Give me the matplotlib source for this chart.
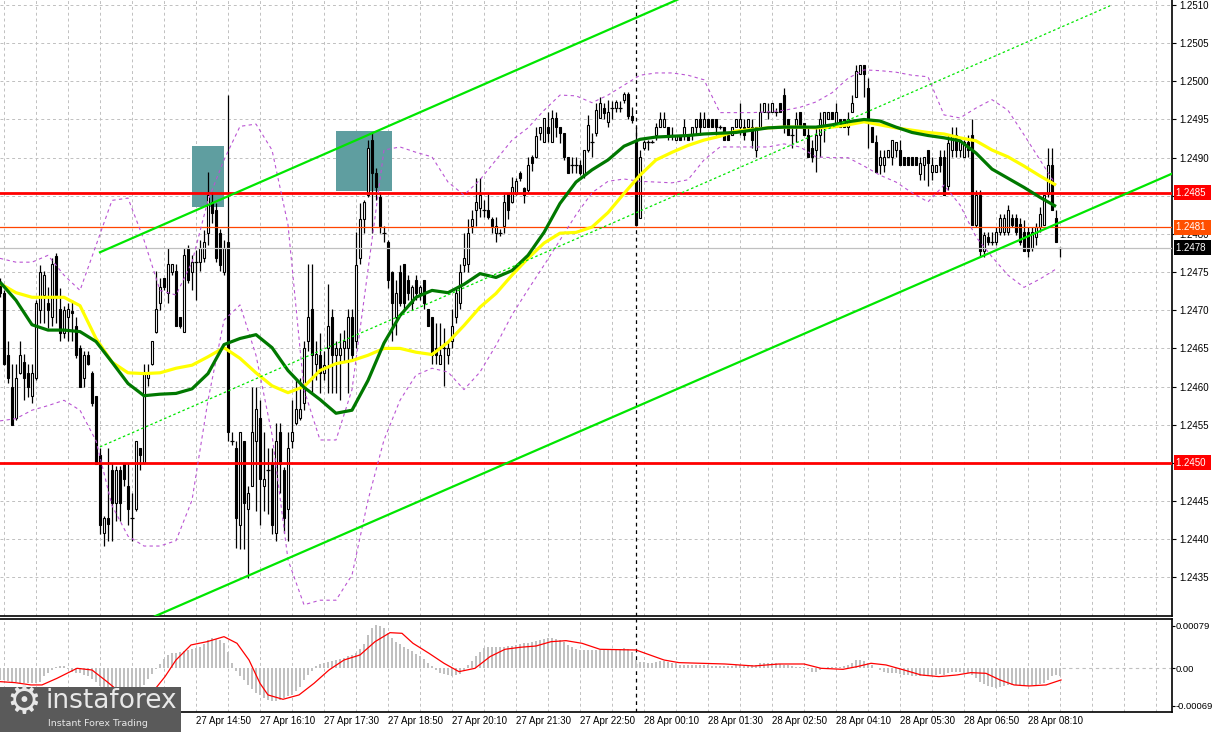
import numpy as np
import matplotlib.pyplot as plt
from matplotlib.patches import Rectangle

plt.rcParams['font.family'] = ['Liberation Sans', 'DejaVu Sans']

BASE = 1.2400   # all chart values below are pips above this price
PIP = 0.0001

# 5 minute candles, 27 Apr 10:45 .. 28 Apr 08:50 (pips above 1.2400)
opens = [
    73.5, 72.2, 64.1, 60.0, 55.9, 61.8, 63.2, 61.8,
    58.8, 61.1, 70.0, 72.0, 71.0, 69.1, 77.1, 70.2,
    67.0, 69.1, 69.9, 68.0, 65.0, 61.1, 64.1, 61.8,
    58.8, 51.0, 40.8, 42.8, 49.0, 44.8, 49.0, 50.0,
    47.0, 42.8, 44.0, 52.0, 50.0, 61.1, 63.0, 67.1,
    71.0, 74.2, 72.2, 75.0, 75.2, 69.1, 67.1, 78.2,
    75.0, 76.3, 76.3, 76.9, 80.1, 84.2, 83.1, 80.1,
    75.0, 78.9, 52.9, 52.0, 41.8, 52.9, 44.0, 47.0,
    52.9, 55.9, 47.0, 49.0, 50.0, 40.8, 54.0, 49.0,
    44.0, 52.9, 55.2, 55.9, 57.9, 66.0, 70.2, 63.0,
    64.1, 61.8, 65.0, 69.1, 64.1, 64.1, 65.0, 65.0,
    69.1, 66.0, 76.9, 82.0, 85.1, 92.3, 88.0, 84.8,
    80.1, 78.9, 75.0, 69.1, 75.0, 76.1, 73.9, 71.0,
    73.9, 72.2, 73.9, 70.2, 69.1, 65.0, 63.0, 65.0,
    64.1, 66.0, 69.1, 71.0, 75.9, 76.1, 81.1, 83.1,
    83.4, 83.1, 83.1, 82.0, 80.1, 80.1, 81.1, 85.3,
    84.2, 85.3, 88.0, 86.0, 85.7, 90.1, 90.1, 93.2,
    92.0, 94.0, 92.0, 95.2, 94.0, 93.2, 90.1, 89.0,
    89.0, 89.0, 87.7, 91.0, 92.0, 93.2, 95.2, 96.5,
    94.7, 96.5, 96.5, 96.5, 97.6, 98.3, 95.5, 92.3,
    82.1, 91.2, 92.1, 92.1, 93.0, 94.0, 94.0, 94.0,
    93.0, 92.3, 93.0, 93.0, 93.0, 93.0, 94.0, 95.1,
    94.0, 95.1, 95.1, 95.1, 94.0, 94.0, 93.0, 93.0,
    94.0, 94.0, 94.0, 94.0, 94.0, 91.0, 94.0, 96.0,
    96.0, 96.0, 96.0, 97.1, 98.2, 95.1, 93.0, 94.0,
    96.0, 94.6, 93.0, 91.2, 91.0, 93.0, 94.0, 95.1,
    96.0, 94.0, 95.1, 95.1, 94.0, 96.0, 97.9, 101.0,
    102.1, 99.1, 94.0, 92.1, 89.1, 89.1, 90.1, 90.1,
    91.0, 91.0, 90.1, 90.1, 90.1, 90.1, 87.9, 89.1,
    91.0, 88.1, 88.1, 90.1, 90.1, 86.3, 91.0, 93.0,
    91.0, 90.1, 92.1, 93.0, 81.2, 85.1, 77.8, 79.6,
    79.0, 79.0, 80.2, 80.2, 80.2, 82.1, 82.1, 81.3,
    80.2, 80.2, 78.2, 79.6, 80.9, 81.2, 85.2, 89.1,
    82.1, 78.2,
]
highs = [
    74.2, 72.6, 66.0, 63.0, 63.0, 66.0, 64.3, 63.0,
    63.0, 71.3, 75.9, 75.2, 73.0, 76.8, 77.5, 72.9,
    70.6, 71.0, 71.3, 69.1, 65.4, 64.7, 64.7, 62.1,
    58.8, 51.9, 43.1, 52.0, 50.0, 49.6, 49.6, 50.0,
    50.0, 46.0, 52.9, 52.0, 63.0, 63.0, 66.0, 75.2,
    74.2, 74.2, 78.1, 76.1, 76.1, 69.1, 78.2, 78.5,
    77.2, 77.9, 79.2, 80.5, 88.1, 85.5, 84.0, 80.7,
    79.2, 98.2, 54.0, 52.9, 54.0, 52.9, 47.0, 59.9,
    59.9, 58.2, 54.0, 52.0, 52.0, 55.2, 55.2, 49.4,
    54.0, 58.2, 60.8, 61.1, 66.0, 76.1, 76.1, 66.0,
    67.0, 64.7, 73.5, 70.2, 66.0, 67.0, 67.4, 70.2,
    70.2, 80.2, 84.0, 84.4, 92.3, 93.2, 88.7, 85.5,
    81.1, 79.2, 75.2, 73.9, 75.9, 76.1, 74.6, 73.3,
    74.6, 73.3, 73.9, 70.2, 69.1, 68.3, 68.3, 67.7,
    66.0, 70.2, 73.0, 76.1, 80.1, 82.0, 83.1, 87.3,
    87.3, 84.4, 85.3, 82.2, 82.2, 80.7, 85.3, 85.3,
    87.4, 87.3, 88.3, 86.1, 90.1, 90.3, 94.0, 94.0,
    95.2, 96.0, 96.2, 96.0, 94.0, 93.2, 90.1, 90.1,
    90.1, 89.7, 91.0, 95.6, 93.2, 97.1, 97.9, 97.1,
    97.6, 97.4, 97.6, 97.4, 98.6, 98.6, 96.7, 94.0,
    91.0, 92.3, 92.3, 92.3, 94.6, 96.0, 96.0, 94.0,
    94.0, 93.0, 93.0, 95.1, 93.0, 94.0, 95.1, 96.0,
    96.0, 95.1, 95.1, 95.1, 94.3, 94.0, 93.0, 94.0,
    95.1, 97.1, 95.1, 95.1, 95.1, 94.0, 97.1, 97.1,
    97.1, 97.1, 96.5, 97.1, 99.1, 95.1, 94.0, 96.0,
    96.0, 94.6, 94.0, 92.3, 94.0, 96.0, 96.0, 96.0,
    96.0, 97.1, 95.1, 95.1, 96.0, 98.2, 102.1, 102.1,
    102.1, 100.5, 94.0, 93.0, 91.0, 91.0, 91.0, 92.3,
    92.1, 92.3, 90.1, 90.1, 90.1, 90.1, 90.1, 90.1,
    91.0, 90.1, 89.1, 91.0, 91.0, 93.0, 94.0, 94.0,
    92.3, 92.3, 93.0, 95.1, 85.7, 85.7, 80.2, 80.2,
    80.2, 80.9, 82.6, 82.6, 83.8, 82.6, 82.6, 82.1,
    81.8, 80.9, 80.9, 81.4, 83.5, 85.1, 91.2, 91.2,
    83.2, 78.2,
]
lows = [
    71.8, 62.8, 60.5, 54.9, 55.6, 61.7, 58.2, 58.6,
    57.9, 60.8, 68.3, 68.3, 67.7, 68.0, 68.3, 66.0,
    66.4, 66.0, 66.0, 63.7, 59.9, 59.9, 62.8, 57.5,
    49.9, 40.7, 39.1, 39.8, 39.8, 42.4, 42.4, 47.0,
    41.8, 39.8, 43.7, 49.0, 49.9, 60.1, 62.8, 67.0,
    70.0, 72.6, 70.9, 74.6, 68.0, 67.7, 67.1, 73.6,
    72.6, 71.3, 75.2, 76.3, 78.5, 81.5, 76.3, 75.2,
    74.6, 52.9, 52.3, 38.9, 38.7, 38.7, 34.9, 47.0,
    43.7, 41.8, 43.7, 43.3, 40.7, 39.8, 46.0, 40.8,
    39.8, 52.0, 54.9, 55.6, 56.9, 64.7, 59.1, 60.8,
    59.1, 60.8, 59.1, 59.1, 59.1, 58.2, 63.4, 59.1,
    63.4, 65.0, 76.1, 80.1, 84.8, 80.1, 84.4, 80.1,
    78.9, 72.9, 66.0, 66.7, 70.6, 70.2, 71.3, 70.0,
    71.3, 71.3, 70.2, 68.0, 63.0, 63.0, 63.0, 60.1,
    63.0, 65.0, 68.3, 70.2, 75.0, 75.0, 80.1, 81.1,
    82.2, 82.2, 82.0, 80.1, 78.9, 79.7, 80.1, 82.0,
    84.0, 85.1, 87.0, 84.0, 85.5, 88.3, 89.9, 92.3,
    92.0, 92.0, 92.0, 92.7, 91.9, 89.7, 88.0, 88.0,
    88.0, 87.7, 87.3, 90.7, 90.1, 92.9, 95.2, 95.1,
    94.0, 95.1, 96.0, 96.0, 97.1, 95.1, 94.6, 81.2,
    82.1, 91.0, 91.0, 91.9, 92.3, 94.0, 94.0, 92.3,
    92.3, 92.3, 92.3, 92.3, 92.3, 92.3, 93.0, 93.0,
    94.0, 94.0, 94.0, 93.0, 93.8, 92.3, 92.3, 93.0,
    94.0, 93.0, 92.3, 94.0, 91.3, 90.1, 93.8, 96.0,
    95.1, 96.0, 95.5, 96.0, 93.2, 93.0, 91.3, 92.1,
    94.0, 93.0, 90.1, 89.4, 88.1, 90.1, 92.1, 95.1,
    95.1, 94.0, 94.0, 94.0, 93.0, 96.0, 97.9, 101.0,
    97.9, 91.2, 92.1, 88.1, 87.9, 88.1, 90.1, 89.1,
    90.1, 89.1, 89.1, 89.1, 89.1, 89.1, 87.1, 87.1,
    86.3, 87.1, 88.1, 88.1, 85.1, 85.7, 90.1, 90.1,
    90.1, 90.1, 90.1, 81.2, 80.9, 77.0, 77.0, 78.6,
    78.6, 78.6, 79.8, 79.8, 79.8, 80.9, 79.8, 78.6,
    77.8, 77.0, 77.8, 78.6, 80.2, 81.2, 84.9, 83.2,
    79.0, 77.0,
]
closes = [
    72.2, 63.0, 61.1, 54.9, 61.1, 64.1, 61.1, 59.9,
    61.8, 70.9, 75.0, 74.6, 70.0, 76.1, 72.0, 67.0,
    70.0, 70.2, 69.6, 64.1, 59.9, 64.1, 63.0, 57.9,
    49.9, 41.8, 42.8, 42.0, 44.7, 49.0, 44.8, 47.9,
    44.0, 42.8, 52.9, 51.0, 61.8, 61.8, 66.0, 70.2,
    73.0, 73.0, 76.1, 76.1, 68.0, 68.0, 77.2, 74.0,
    76.3, 76.3, 78.1, 78.9, 85.1, 82.7, 76.9, 75.9,
    78.1, 54.0, 52.9, 42.8, 54.0, 44.8, 46.0, 54.0,
    57.1, 47.9, 47.9, 49.0, 41.8, 52.9, 49.9, 42.8,
    52.0, 54.0, 57.1, 57.1, 65.0, 69.1, 64.1, 64.3,
    61.8, 62.8, 68.0, 64.1, 65.0, 65.0, 66.0, 69.1,
    64.1, 75.9, 82.0, 84.2, 91.2, 88.0, 86.1, 81.1,
    80.1, 73.9, 71.0, 72.2, 71.0, 71.0, 72.2, 73.0,
    72.2, 73.0, 71.0, 68.0, 64.1, 64.1, 64.1, 65.0,
    65.0, 68.0, 72.2, 75.0, 76.9, 80.1, 82.0, 84.2,
    85.1, 83.1, 82.2, 81.1, 81.1, 80.1, 84.2, 83.1,
    86.1, 87.0, 87.3, 85.1, 89.0, 89.3, 92.9, 94.0,
    95.2, 93.2, 95.2, 94.0, 93.2, 90.1, 88.0, 89.0,
    89.0, 88.0, 91.0, 94.3, 92.0, 96.2, 97.1, 95.8,
    96.0, 96.5, 97.3, 96.5, 98.3, 95.5, 94.9, 81.2,
    90.1, 92.1, 92.1, 92.1, 94.0, 95.1, 95.1, 93.0,
    93.0, 93.0, 92.3, 94.0, 92.3, 94.0, 95.1, 94.0,
    95.1, 94.0, 94.0, 94.0, 94.0, 92.3, 92.3, 94.0,
    95.1, 95.1, 93.0, 95.1, 92.3, 94.0, 96.0, 97.1,
    96.0, 97.1, 96.0, 96.0, 94.0, 93.0, 93.0, 95.1,
    94.3, 93.0, 90.1, 90.1, 93.0, 95.1, 96.0, 96.0,
    95.1, 96.0, 94.0, 94.0, 95.1, 97.1, 101.3, 102.1,
    101.0, 94.9, 92.1, 88.1, 90.1, 90.1, 91.0, 92.3,
    92.1, 89.1, 89.1, 89.1, 89.1, 89.1, 89.3, 90.1,
    89.3, 89.1, 89.1, 89.1, 85.1, 91.9, 93.0, 91.0,
    92.3, 92.1, 91.0, 81.2, 85.1, 77.8, 79.8, 79.0,
    79.0, 80.2, 82.1, 82.1, 83.2, 81.2, 80.2, 79.0,
    77.8, 77.8, 80.2, 80.9, 82.6, 85.1, 89.1, 83.2,
    79.0, 78.2,
]

# indicator lines, one value every 4 bars (pips above 1.2400)
MA_STEP = 4
ma_green = [
    73.7, 71.3, 68.1, 67.4, 67.4, 67.2, 65.9, 63.2,
    60.4, 58.8, 59.0, 59.1, 59.7, 61.7, 65.5, 66.3,
    66.8, 65.1, 62.1, 59.9, 58.3, 56.5, 56.9, 60.8,
    65.7, 69.3, 71.7, 72.6, 72.3, 73.4, 74.8, 74.3,
    75.2, 77.2, 80.2, 84.0, 86.8, 88.4, 89.7, 91.5,
    92.4, 92.7, 92.8, 92.9, 93.1, 93.2, 93.3, 93.6,
    93.9, 94.0, 94.0, 94.0, 94.3, 94.7, 95.0, 94.8,
    94.0, 93.3, 92.9, 92.6, 92.2, 90.6, 88.5, 87.3,
    86.1, 84.8, 83.6,
]
ma_yellow = [
    73.5, 72.3, 71.7, 71.7, 71.7, 70.6, 66.3, 63.2,
    61.8, 61.7, 61.8, 62.4, 62.8, 63.9, 65.1, 63.7,
    61.8, 60.1, 59.2, 60.0, 62.1, 63.0, 63.4, 64.1,
    65.0, 65.0, 64.5, 64.2, 65.8, 68.0, 70.4, 72.2,
    74.6, 76.8, 78.8, 80.1, 80.2, 80.9, 82.8, 85.3,
    87.7, 89.7, 90.7, 91.6, 92.3, 92.8, 93.5, 93.7,
    93.9, 94.0, 94.0, 93.9, 94.0, 94.3, 94.7, 94.3,
    93.9, 93.6, 93.3, 93.1, 92.6, 92.2, 91.0, 90.1,
    88.9, 87.6, 86.4,
]
band_upper = [
    76.8, 76.3, 76.3, 77.2, 74.6, 72.6, 78.5, 84.4,
    84.7, 79.2, 72.6, 72.0, 76.3, 84.4, 89.7, 94.1,
    94.4, 91.0, 81.2, 59.6, 53.0, 53.0, 59.6, 75.3,
    91.0, 91.4, 90.7, 90.1, 86.8, 85.1, 87.1, 89.7,
    92.3, 93.9, 96.2, 98.2, 98.1, 97.2, 98.2, 99.5,
    100.8, 101.1, 101.1, 100.8, 100.2, 95.9, 95.9, 95.9,
    96.0, 96.2, 96.6, 97.3, 98.5, 100.4, 101.5, 101.4,
    101.2, 100.8, 100.6, 95.6, 95.2, 96.5, 97.6, 96.2,
    93.0, 89.7, 86.4,
]
band_lower = [
    55.5, 55.8, 56.9, 57.5, 58.2, 56.9, 52.9, 44.4,
    40.4, 39.1, 39.1, 39.8, 45.1, 58.2, 68.7, 70.7,
    64.1, 53.7, 37.3, 31.4, 32.0, 32.0, 35.3, 45.1,
    53.0, 58.2, 61.5, 62.4, 61.9, 59.6, 61.9, 65.4,
    69.4, 72.7, 75.9, 79.2, 82.5, 85.4, 86.9, 87.2,
    86.9, 86.8, 86.7, 87.1, 89.7, 91.4, 91.4, 91.4,
    91.4, 91.8, 91.4, 90.1, 90.0, 90.0, 88.9, 87.7,
    86.8, 85.4, 84.2, 86.4, 83.8, 79.6, 77.0, 74.6,
    73.0, 74.1, 75.4,
]

# MACD histogram per bar and signal line, in units of 0.00001
macd_hist = [
    -22, -22, -23, -25, -26, -27, -27, -28,
    -28, -28, -25, -15, -9, -3, 3, 5,
    4, -2, -6, -8, -9, -12, -15, -20,
    -26, -33, -38, -42, -44, -45, -44, -43,
    -42, -40, -37, -35, -30, -20, -10, -2,
    8, 18, 25, 28, 29, 30, 32, 34,
    35, 37, 39, 45, 52, 56, 55, 52,
    47, 30, 10, -5, -15, -22, -30, -38,
    -45, -50, -55, -58, -60, -61, -58, -55,
    -52, -50, -42, -35, -22, -12, -5, 4,
    8, 10, 12, 14, 15, 17, 19, 22,
    24, 28, 35, 45, 62, 74, 80, 79,
    74, 65, 56, 48, 45, 40, 36, 32,
    27, 22, 17, 10, 4, -3, -8, -10,
    -12, -14, -13, -10, -4, 6, 14, 22,
    30, 38, 40, 40, 40, 39, 40, 41,
    42, 43, 45, 46, 47, 48, 50, 52,
    55, 56, 56, 55, 52, 48, 44, 40,
    35, 33, 33, 34, 33, 33, 34, 34,
    34, 34, 34, 36, 37, 35, 31, 15,
    12, 12, 10, 10, 12, 14, 14, 12,
    10, 9, 7, 7, 6, 6, 6, 7,
    6, 6, 4, 4, 4, 4, 4, 4,
    6, 6, 4, 4, 6, 7, 9, 9,
    10, 10, 9, 8, 6, 6, 4, 3,
    2, 2, -2, -6, -6, -3, -2, 2,
    3, 3, 3, 4, 6, 10, 15, 15,
    14, 10, 6, 0, -4, -6, -8, -9,
    -9, -10, -12, -12, -14, -14, -14, -14,
    -15, -14, -12, -10, -12, -8, -6, -6,
    -6, -8, -9, -12, -18, -25, -29, -33,
    -35, -37, -35, -33, -31, -31, -31, -31,
    -33, -33, -31, -31, -29, -27, -22, -15,
    -12, -15,
]
signal_bar = [
    0, 3.75, 7.75, 10.5, 14.25, 19.25, 23, 26.75, 28.75, 31.5,
    34.5, 38.25, 41.25, 44, 47.75, 51.75, 56, 59.25, 62.25, 65,
    67, 70.75, 74.75, 78.5, 82.25, 86, 90, 93.75, 97.5, 100.5,
    103.25, 107.25, 111, 114.75, 118.75, 122.5, 126.25, 130, 134, 137.75,
    141.5, 145.5, 150, 159, 166, 169.75, 181.25, 188.5, 194.75, 201,
    205.25, 210.75, 214.25, 217.75, 221.5, 226, 230.25, 234.75, 239.25, 242.75,
    246.5, 250, 253.5, 257.25, 261.5, 265.25,
]
signal_val = [
    -24.7, -26.5, -30.8, -30.8, -18.5, 0, -3.1, -24.7, -37.0, -46.3,
    -52.4, -43.2, -15.4, 15.4, 43.2, 49.3, 58.6, 46.3, 15.4, -27.8,
    -49.3, -57.4, -49.3, -27.8, -3.1, 15.4, 24.7, 49.3, 66.0, 64.8,
    46.3, 27.8, 9.3, -6.2, 0, 21.6, 35.2, 38.9, 41.3, 49.3,
    51.2, 46.3, 35.2, 33.9, 15.4, 10.5, 8.0, 4.3, 8.0, 8.0,
    0, -1.9, 3.1, 9.3, 6.2, -3.1, -12.3, -15.4, -12.3, -8.0,
    -9.3, -21.6, -30.8, -32.7, -30.8, -21.6,
]

# drawn objects
red_levels = [1.24854, 1.24500]
red_labels = ['1.2485', '1.2450']
open_level, open_label = 1.24809, '1.2481'
bid_level, bid_label = 1.24782, '1.2478'
zones = [(48, 56, 83.5, 91.5), (84, 98, 85.6, 93.5)]   # bar from, bar to, low, high (pips)
channel_upper = ([25, 175], [77.6, 112.0])
channel_lower = ([38.75, 293], [29.9, 87.9])
channel_mid = ([25, 277.5], [52.1, 109.9])
day_break = 159

tick_bars = [49, 65, 81, 97, 113, 129, 145, 161, 177, 193, 209, 225, 241, 257]
tick_labels = ['27 Apr 14:50', '27 Apr 16:10', '27 Apr 17:30',
               '27 Apr 18:50', '27 Apr 20:10', '27 Apr 21:30', '27 Apr 22:50',
               '28 Apr 00:10', '28 Apr 01:30', '28 Apr 02:50', '28 Apr 04:10',
               '28 Apr 05:30', '28 Apr 06:50', '28 Apr 08:10']
grid_bars = list(range(1, 293, 8))
price_ticks = [1.2435, 1.2440, 1.2445, 1.2450, 1.2455, 1.2460, 1.2465, 1.2470,
               1.2475, 1.2480, 1.2485, 1.2490, 1.2495, 1.2500, 1.2505, 1.2510]
covered_ticks = ['1.2450', '1.2485']   # hidden behind the level labels
macd_ticks = [0.00079, 0.0, -0.00069]
macd_tick_labels = ['0.00079', '0.00', '-0.00069']

GRID = '#c0c0c0'
DASH = (0, (3, 3))
FS = 7

FW, FH = 1213, 732
fig = plt.figure(figsize=(FW / 100, FH / 100), dpi=100)
ax = fig.add_axes([0, 116 / FH, 1172 / FW, 616 / FH])
axm = fig.add_axes([0, 20 / FH, 1172 / FW, 93 / FH])

def price(v):
    return BASE + np.asarray(v, dtype=float) * PIP

o, h, l, c = price(opens), price(highs), price(lows), price(closes)
bars = np.arange(len(closes))

# grid and day separator
for a in (ax, axm):
    for g in grid_bars:
        a.axvline(g, color=GRID, lw=0.7, ls=DASH, zorder=0.5)
    a.axvline(day_break, color='black', lw=0.9, ls=DASH, zorder=0.6)
for p in price_ticks:
    ax.axhline(p, color=GRID, lw=0.7, ls=DASH, zorder=0.5)

# zones
for b0, b1, lo_, hi_ in zones:
    ax.add_patch(Rectangle((b0, price(lo_)), b1 - b0, (hi_ - lo_) * PIP,
                           facecolor='#5f9ea0', edgecolor='none', zorder=1))

# candles
ax.vlines(bars, l, h, color='black', lw=0.9, zorder=3)
up = c > o
dn = c < o
fl = c == o
ax.bar(bars[up], (c - o)[up], bottom=o[up], width=0.55, facecolor='white',
       edgecolor='black', lw=0.8, zorder=4)
ax.bar(bars[dn], (o - c)[dn], bottom=c[dn], width=0.55, facecolor='black',
       edgecolor='black', lw=0.8, zorder=4)
ax.hlines(c[fl], bars[fl] - 0.4, bars[fl] + 0.4, color='black', lw=0.9, zorder=4)

# levels
for lv in red_levels:
    ax.axhline(lv, color='#ff0000', lw=2.0, zorder=5)
ax.axhline(open_level, color='#ff4500', lw=0.9, zorder=5)
ax.axhline(bid_level, color='#c0c0c0', lw=0.9, zorder=5)

# bands and averages
mx = np.arange(len(ma_green)) * MA_STEP
ax.plot(mx, price(band_upper), color='#ba55d3', lw=0.8, ls=DASH, zorder=6)
ax.plot(mx, price(band_lower), color='#ba55d3', lw=0.8, ls=DASH, zorder=6)
ax.plot(mx, price(ma_yellow), color='#ffff00', lw=2.3, zorder=7, solid_capstyle='butt')
ax.plot(mx, price(ma_green), color='#007800', lw=2.3, zorder=7, solid_capstyle='butt')

# channel
ax.plot(channel_upper[0], price(channel_upper[1]), color='#00e600', lw=1.6, zorder=8)
ax.plot(channel_lower[0], price(channel_lower[1]), color='#00e600', lw=1.6, zorder=8)
ax.plot(channel_mid[0], price(channel_mid[1]), color='#00e600', lw=0.9, ls=(0, (2, 2)), zorder=8)

ax.set_xlim(0, 293)
ax.set_ylim(BASE + 29.93 * PIP, BASE + 110.66 * PIP)
ax.yaxis.tick_right()
ax.set_yticks(price_ticks)
ax.set_yticklabels(['' if f'{p:.4f}' in covered_ticks else f'{p:.4f}' for p in price_ticks])
ax.tick_params(axis='y', length=3, width=0.8, pad=2, labelsize=FS)
ax.set_xticks([])
for s in ('top', 'left'):
    ax.spines[s].set_visible(False)
for s in ('right', 'bottom'):
    ax.spines[s].set_linewidth(1.2)

lab_tr = ax.get_yaxis_transform()
for lv, txt in zip(red_levels, red_labels):
    ax.text(1.0035, lv, txt + ' ', transform=lab_tr, va='center', ha='left',
            fontsize=FS, color='white', zorder=20,
            bbox=dict(boxstyle='square,pad=0.25', fc='#ff0000', ec='none'))
ax.text(1.0035, open_level, open_label + ' ', transform=lab_tr, va='center', ha='left',
        fontsize=FS, color='white', zorder=20,
        bbox=dict(boxstyle='square,pad=0.25', fc='#ff4f00', ec='none'))
ax.text(1.0035, bid_level, bid_label + ' ', transform=lab_tr, va='center', ha='left',
        fontsize=FS, color='white', zorder=20,
        bbox=dict(boxstyle='square,pad=0.25', fc='black', ec='none'))

# MACD panel
hist = np.array(macd_hist) * 1e-5
axm.bar(bars, hist, width=0.5, color='#c0c0c0', zorder=2)
axm.plot(signal_bar, np.array(signal_val) * 1e-5, color='#ff0000', lw=0.9, zorder=3)
axm.plot([len(closes) - 0.5, 293], [0, 0], color=GRID, lw=0.8, ls=DASH, zorder=1)
axm.set_xlim(0, 293)
axm.set_ylim(-0.000809, 0.000913)
axm.yaxis.tick_right()
axm.set_yticks(macd_ticks)
axm.set_yticklabels(macd_tick_labels)
axm.tick_params(axis='y', length=2, width=0.8, pad=0.8, labelsize=6.8)
axm.set_xticks(tick_bars)
axm.set_xticklabels(tick_labels, ha='left')
axm.tick_params(axis='x', length=0, pad=3, labelsize=FS)
axm.spines['left'].set_visible(False)
for s in ('top', 'right', 'bottom'):
    axm.spines[s].set_linewidth(1.2)

# broker logo
fig.add_artist(Rectangle((0, 0), 181 / FW, 45 / FH, transform=fig.transFigure,
                         facecolor='#5a5a5a', edgecolor='none', zorder=10))
fig.text(24 / FW, 11 / FH, '\u2699', fontsize=28, color='#e8e8e8', ha='center',
         va='bottom', family='DejaVu Sans', zorder=11)
fig.text(45 / FW, 24 / FH, 'instaforex', fontsize=19, color='#e8e8e8', ha='left',
         va='baseline', family='DejaVu Sans', zorder=11)
fig.text(48 / FW, 6 / FH, 'Instant Forex Trading', fontsize=6.8, color='#e8e8e8',
         ha='left', va='baseline', family='DejaVu Sans', zorder=11)

fig.savefig('out.png', dpi=100)
